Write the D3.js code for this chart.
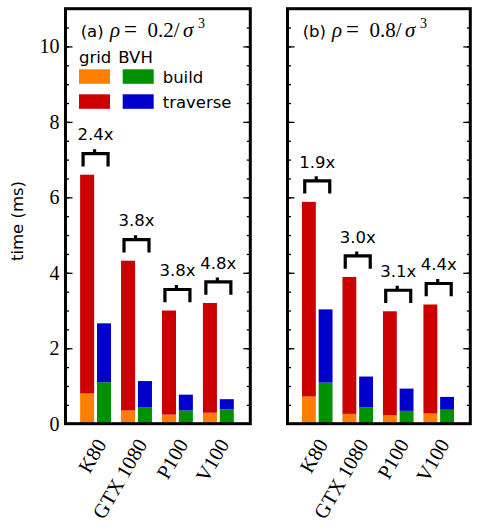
<!doctype html>
<html>
<head>
<meta charset="utf-8">
<title>grid vs BVH timings</title>
<script src="https://d3js.org/d3.v7.min.js"></script>
<style>
  body { margin: 0; background: #fff; }
</style>
</head>
<body>
<script>
// values (ms)
var gpus = ["K80", "GTX 1080", "P100", "V100"];

var gridBuildA    = [0.80, 0.35, 0.24, 0.29];
var gridTraverseA = [5.80, 3.97, 2.76, 2.91];
var bvhBuildA     = [1.10, 0.44, 0.35, 0.38];
var bvhTraverseA  = [1.56, 0.69, 0.42, 0.27];
var speedupA      = ["2.4x", "3.8x", "3.8x", "4.8x"];

var gridBuildB    = [0.72, 0.26, 0.22, 0.27];
var gridTraverseB = [5.16, 3.63, 2.76, 2.89];
var bvhBuildB     = [1.09, 0.43, 0.34, 0.37];
var bvhTraverseB  = [1.94, 0.82, 0.59, 0.34];
var speedupB      = ["1.9x", "3.0x", "3.1x", "4.4x"];

var yMajor = [0, 2, 4, 6, 8, 10];
var yMinor = d3.range(0, 10.51, 0.5);

var colors = {
    gridBuild: "#ff7f00",
    gridTraverse: "#cc0000",
    bvhBuild: "#009100",
    bvhTraverse: "#0000cc"
};

var sans = "'DejaVu Sans', sans-serif";
var serif = "'Liberation Serif', 'DejaVu Serif', serif";

var svg = d3.select("body")
    .append("svg")
    .attr("width", 480)
    .attr("height", 528);

svg.append("rect")
    .attr("width", 480)
    .attr("height", 528)
    .attr("fill", "#fff");

var plotTop = 8.7, plotBottom = 423.7;
var y = d3.scaleLinear().domain([0, 11]).range([plotBottom, plotTop]);

var panels = [
    {tag: "(a)", rho: "0.2", left: 65.5, right: 250.3, labels: true, legend: true,
     gridBuild: gridBuildA, gridTraverse: gridTraverseA,
     bvhBuild: bvhBuildA, bvhTraverse: bvhTraverseA, speedup: speedupA},
    {tag: "(b)", rho: "0.8", left: 287.5, right: 470.3, labels: false, legend: false,
     gridBuild: gridBuildB, gridTraverse: gridTraverseB,
     bvhBuild: bvhBuildB, bvhTraverse: bvhTraverseB, speedup: speedupB}
];

panels.forEach(drawPanel);

// y axis title
svg.append("text")
    .attr("transform", "translate(23,221) rotate(-90)")
    .attr("text-anchor", "middle")
    .style("font-family", sans)
    .style("font-size", "16.5px")
    .text("time (ms)");

function drawPanel(p) {
    var g = svg.append("g");

    var x0 = d3.scaleBand()
        .domain(gpus)
        .range([p.left, p.right])
        .paddingInner(0.245)
        .paddingOuter(0.38)
        .align(0.47);
    var x1 = d3.scaleBand()
        .domain(["grid", "bvh"])
        .range([0, x0.bandwidth()])
        .paddingInner(0.17);

    // stacked pieces: build at the bottom, traverse on top
    var segs = [];
    gpus.forEach(function(name, i) {
        var gb = p.gridBuild[i], gt = p.gridTraverse[i];
        var bb = p.bvhBuild[i], bt = p.bvhTraverse[i];
        segs.push({gpu: name, kind: "grid", y0: 0, y1: gb, color: colors.gridBuild});
        segs.push({gpu: name, kind: "grid", y0: gb, y1: gb + gt, color: colors.gridTraverse});
        segs.push({gpu: name, kind: "bvh", y0: 0, y1: bb, color: colors.bvhBuild});
        segs.push({gpu: name, kind: "bvh", y0: bb, y1: bb + bt, color: colors.bvhTraverse});
    });

    g.selectAll("rect.bar")
        .data(segs)
        .enter()
        .append("rect")
        .attr("class", "bar")
        .attr("x", function(d) { return x0(d.gpu) + x1(d.kind); })
        .attr("width", x1.bandwidth())
        .attr("y", function(d) { return y(d.y1); })
        .attr("height", function(d) { return y(d.y0) - y(d.y1); })
        .attr("fill", function(d) { return d.color; });

    // speed-up brackets
    var brackets = gpus.map(function(name, i) {
        var tallest = Math.max(p.gridBuild[i] + p.gridTraverse[i], p.bvhBuild[i] + p.bvhTraverse[i]);
        return {gpu: name, top: y(tallest), text: p.speedup[i]};
    });
    g.selectAll("path.bracket")
        .data(brackets)
        .enter()
        .append("path")
        .attr("class", "bracket")
        .attr("d", function(d) {
            var c = x0(d.gpu) + x0.bandwidth() / 2;
            var yb = d.top - 8.3, yt = d.top - 21;
            return "M" + (c - 12.5) + "," + yb + "V" + yt + "H" + (c + 12.5) + "V" + yb +
                   "M" + (c - 1) + "," + yt + "V" + (yt - 4.5);
        })
        .attr("fill", "none")
        .attr("stroke", "#000")
        .attr("stroke-width", 3.2);
    g.selectAll("text.speedup")
        .data(brackets)
        .enter()
        .append("text")
        .attr("class", "speedup")
        .attr("x", function(d) { return x0(d.gpu) + x0.bandwidth() / 2; })
        .attr("y", function(d) { return d.top - 34.3; })
        .attr("text-anchor", "middle")
        .style("font-family", sans)
        .style("font-size", "16.5px")
        .text(function(d) { return d.text; });

    // ticks, inward on both sides
    var axes = [
        {axis: d3.axisLeft(y).tickValues(yMinor).tickSize(-3.5).tickFormat(""), x: p.left},
        {axis: d3.axisRight(y).tickValues(yMinor).tickSize(-3.5).tickFormat(""), x: p.right},
        {axis: d3.axisLeft(y).tickValues(yMajor).tickSize(-7).tickPadding(6)
            .tickFormat(p.labels ? d3.format("d") : ""), x: p.left},
        {axis: d3.axisRight(y).tickValues(yMajor).tickSize(-7).tickFormat(""), x: p.right}
    ];
    axes.forEach(function(a) {
        var ag = g.append("g")
            .attr("transform", "translate(" + a.x + ",0)")
            .call(a.axis);
        ag.select(".domain").remove();
        ag.selectAll("line").attr("stroke-width", 1.3);
        ag.selectAll("text")
            .style("font-family", serif)
            .style("font-size", "20px")
            .attr("fill", "#000");
    });

    // frame
    g.append("rect")
        .attr("x", p.left)
        .attr("y", plotTop)
        .attr("width", p.right - p.left)
        .attr("height", plotBottom - plotTop)
        .attr("fill", "none")
        .attr("stroke", "#000")
        .attr("stroke-width", 3);

    // x labels
    g.selectAll("text.gpu")
        .data(gpus)
        .enter()
        .append("text")
        .attr("class", "gpu")
        .attr("transform", function(d) {
            return "translate(" + (x0(d) + x0.bandwidth() / 2 + 11.5) + ",444) rotate(-60)";
        })
        .attr("text-anchor", "end")
        .style("font-family", serif)
        .style("font-size", "20.5px")
        .text(function(d) { return d; });

    // panel title
    var t = g.append("text")
        .attr("y", 36.7)
        .style("font-size", "16.5px");
    t.append("tspan").attr("x", p.left + 15.2).style("font-family", sans).text(p.tag);
    t.append("tspan").attr("x", p.left + 44.5).style("font-family", serif)
        .style("font-style", "italic").style("font-size", "21px").text("ρ");
    t.append("tspan").attr("x", p.left + 58.5).style("font-family", serif)
        .style("font-size", "23px").text("=");
    t.append("tspan").attr("x", p.left + 82).style("font-family", serif)
        .style("font-size", "21px").text(p.rho + "/");
    t.append("tspan").attr("x", p.left + 117.5).style("font-family", serif)
        .style("font-style", "italic").style("font-size", "21px").text("σ");
    t.append("tspan").attr("x", p.left + 132.5).attr("dy", -9).style("font-family", serif)
        .style("font-size", "14px").text("3");

    if (p.legend) {
        var lx = p.left;
        var entries = [
            {label: "build", colorA: colors.gridBuild, colorB: colors.bvhBuild, y: 69.3},
            {label: "traverse", colorA: colors.gridTraverse, colorB: colors.bvhTraverse, y: 94.3}
        ];
        g.append("text").attr("x", lx + 13.5).attr("y", 63.3)
            .style("font-family", sans).style("font-size", "16.5px").text("grid");
        g.append("text").attr("x", lx + 52.8).attr("y", 63.3)
            .style("font-family", sans).style("font-size", "16.5px").text("BVH");
        entries.forEach(function(e) {
            g.append("rect").attr("x", lx + 13.5).attr("y", e.y)
                .attr("width", 31).attr("height", 14.5).attr("fill", e.colorA);
            g.append("rect").attr("x", lx + 57.2).attr("y", e.y)
                .attr("width", 31).attr("height", 14.5).attr("fill", e.colorB);
            g.append("text").attr("x", lx + 97.2).attr("y", e.y + 14)
                .style("font-family", sans).style("font-size", "16.5px").text(e.label);
        });
    }
}
</script>
</body>
</html>
